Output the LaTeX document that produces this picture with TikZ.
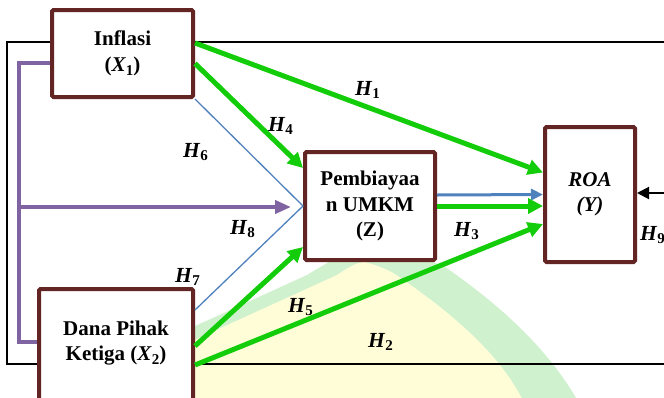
\documentclass[tikz,border=0pt]{standalone}
\usepackage{fontspec}
\setmainfont{Liberation Serif}
\usetikzlibrary{arrows.meta,calc,shadows}

\definecolor{boxedge}{RGB}{99,37,35}
\definecolor{pathgreen}{RGB}{20,205,10}
\definecolor{modpurple}{RGB}{128,100,162}
\definecolor{linkblue}{RGB}{79,129,189}
\definecolor{wmgreen}{RGB}{208,241,206}
\definecolor{wmyellow}{RGB}{255,253,216}

% variable symbol with a bold upright index
\newcommand{\hvar}[2]{\textbf{\textit{#1}}\raisebox{-0.4ex}{\fontsize{15}{15}\selectfont\bfseries #2}}

\begin{document}
\begin{tikzpicture}[x=1pt,y=-1pt,
  varbox/.style={draw=boxedge, line width=4pt, fill=white, rounded corners=1.5pt,
    align=center, inner sep=0pt, font=\fontsize{21}{25.5}\selectfont\bfseries,
    drop shadow={opacity=0.18, shadow xshift=1.5pt, shadow yshift=-1.5pt}},
  boxtext/.style={align=center, inner sep=0pt, font=\fontsize{21}{25.5}\selectfont\bfseries},
  hyp/.style={anchor=base west, inner sep=0pt, font=\fontsize{21.5}{21.5}\selectfont},
  greenpath/.style={draw=pathgreen, line width=5pt, -{Triangle[length=15pt,width=15pt]}},
  bluelink/.style={draw=linkblue, line width=1.3pt},
  bluepath/.style={draw=linkblue, line width=3pt, -{Triangle[length=12pt,width=11pt]}},
  purplepath/.style={draw=modpurple, line width=4pt},
  frameline/.style={draw=black, line width=1.5pt}
]
\useasboundingbox (0,0) rectangle (664,397);
\clip (0,0) rectangle (664,397);
\fill[white] (0,0) rectangle (664,397);

% faint dome watermark in the background
\fill[wmgreen] (22,405) -- (307,275) .. controls (335,258) and (350,250) .. (365,248)
  .. controls (400,252) and (425,258) .. (445,267)
  .. controls (500,305) and (550,350) .. (580,405) -- cycle;
\fill[wmyellow] (52,405) -- (337,275) .. controls (350,266) and (358,262) .. (365,262)
  .. controls (375,265) and (385,268) .. (395,274)
  .. controls (440,305) and (500,350) .. (525,405) -- cycle;

% outer frame
\draw[frameline] (7,42) rectangle (700,364);

% variables
\node[varbox, minimum width=141pt, minimum height=87pt] (inf) at (122.5,53.5)
  {Inflasi\\(\hvar{X}{1})};
\node[varbox, minimum width=154pt, minimum height=130pt] (dpk) at (116,354) {};
\node[boxtext] (dpkt) at (116,343) {Dana Pihak\\Ketiga (\hvar{X}{2})};
\node[varbox, minimum width=130pt, minimum height=108pt] (z) at (370,206)
  {Pembiayaa\\n UMKM\\(Z)};
\node[varbox, minimum width=90pt, minimum height=135pt] (roa) at (590,194.5)
  {\itshape ROA\\\itshape (Y)};

% moderating link
\coordinate (bendtop) at (19,63);
\coordinate (bendbot) at (19,342);
\coordinate (modsplit) at (19,207);
\coordinate (modtip) at (291,207);
\draw[purplepath] ([yshift=-9.5pt]inf.west) -- (bendtop) -- (bendbot) -- ([yshift=12pt]dpk.west);
\draw[purplepath, -{Triangle[length=16pt,width=13pt]}] (modsplit) -- (modtip);

% indirect links
\draw[bluelink] (inf.south east) -- (z.west) -- ([yshift=44pt]dpk.east);
\draw[bluepath] ([yshift=11pt]z.east) -- (roa.west);

% direct paths
\draw[greenpath] ([yshift=10.5pt]inf.east) -- ([yshift=22pt]roa.west);
\draw[greenpath] ([yshift=-10pt]inf.east) -- ([yshift=38pt]z.west);
\draw[greenpath] (z.east) -- ([yshift=-11.5pt]roa.west);
\draw[greenpath] ([yshift=8pt]dpk.east) -- ([yshift=-41pt]z.west);
\draw[greenpath] ([yshift=-11pt]dpk.east) -- ([yshift=-29.5pt]roa.west);

% external input
\coordinate (extin) at (680,193);
\draw[line width=2pt, -{Triangle[length=12pt,width=12pt]}] (extin) -- ([yshift=1.5pt]roa.east);

% hypothesis labels
\node[hyp] (h1) at (355,95) {\hvar{H}{1}};
\node[hyp] (h2) at (368,347) {\hvar{H}{2}};
\node[hyp] (h3) at (454,236) {\hvar{H}{3}};
\node[hyp] (h4) at (268,131) {\hvar{H}{4}};
\node[hyp] (h5) at (288,312) {\hvar{H}{5}};
\node[hyp] (h6) at (183,157) {\hvar{H}{6}};
\node[hyp] (h7) at (175,282) {\hvar{H}{7}};
\node[hyp] (h8) at (230,234) {\hvar{H}{8}};
\node[hyp] (h9) at (640,240) {\hvar{H}{9}};
\end{tikzpicture}
\end{document}
